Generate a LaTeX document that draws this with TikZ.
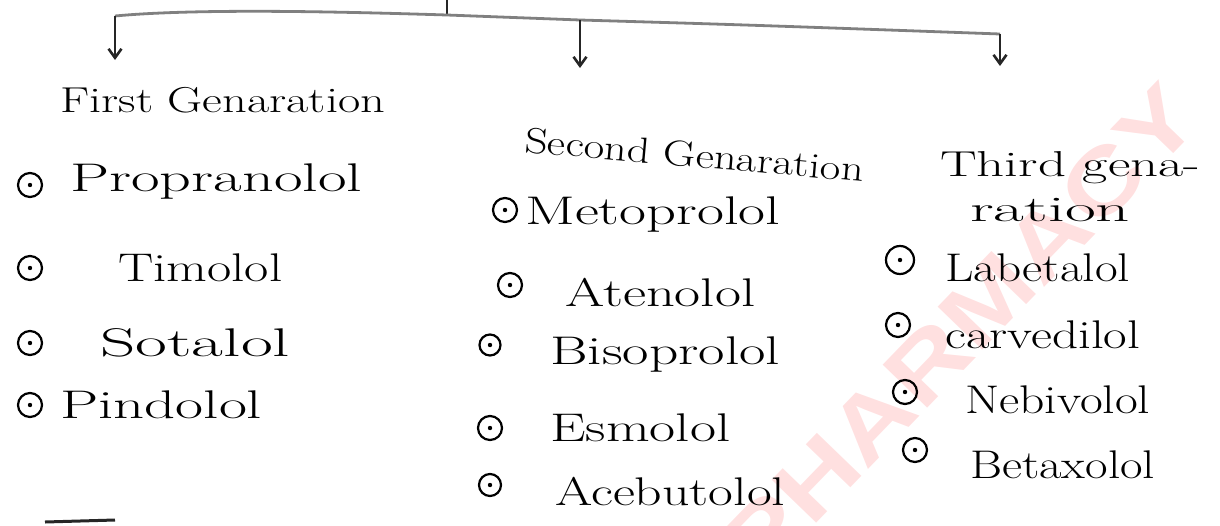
\documentclass[tikz,border=0pt]{standalone}
\usepackage{fontspec}
\usepackage{graphicx}
\usetikzlibrary{arrows.meta}
\newfontfamily\wmfont{Liberation Sans}
\newcommand{\hw}[2]{\resizebox{#1}{\height}{#2}}
\begin{document}
\begin{tikzpicture}[x=1pt,y=-1pt,
  txt/.style={inner sep=0pt, anchor=west, font=\fontsize{40}{44}\selectfont},
  head/.style={inner sep=0pt, anchor=west, font=\fontsize{36}{40}\selectfont},
  bul/.style={circle, draw, line width=2.2pt, minimum size=24pt, inner sep=0pt,
    path picture={\fill (path picture bounding box.center) circle (2.2pt);}},
  conn/.style={line width=2.6pt, draw=black!85},
  hline/.style={line width=2.8pt, draw=black!50},
  arr/.style={conn, -{Straight Barb[length=9pt,width=13pt]}}]
\useasboundingbox (0,0) rectangle (1220,525);
% watermark
\node[rotate=46, text=red!12, inner sep=0pt] (wm) at (960,330)
  {\wmfont\bfseries\fontsize{90}{90}\selectfont\hw{640pt}{PHARMACY}};
% connectors
\coordinate (top) at (447,0);
\coordinate (j0) at (447,15);
\coordinate (jl) at (115,16);
\coordinate (jm) at (580,20);
\coordinate (jr) at (1000,34);
\coordinate (el) at (115,60);
\coordinate (em) at (580,68);
\coordinate (er) at (1000,66);
\coordinate (bl1) at (45,522);
\coordinate (bl2) at (115,520);
\draw[conn] (top) -- (j0);
\draw[hline] (jl) .. controls (200,8) and (350,12) .. (j0) -- (jm) .. controls (750,25) .. (jr);
\draw[arr] (jl) -- (el);
\draw[arr] (jm) -- (em);
\draw[arr] (jr) -- (er);
\draw[conn, line width=3pt] (bl1) -- (bl2);
% headers
\node[head] (h1) at (60,100) {\hw{325pt}{First Genaration}};
\node[head, rotate=-5] (h2) at (525,140) {\hw{340pt}{Second Genaration}};
\node[head] (h3a) at (940,168) {\hw{260pt}{Third gena-}};
\node[head] (h3b) at (970,210) {\hw{160pt}{ration}};
% column 1
\node[bul] (b11) at (30,185) {};
\node[txt] (t11) at (70,182) {\hw{292pt}{Propranolol}};
\node[bul] (b12) at (30,268) {};
\node[txt] (t12) at (118,268) {\hw{164pt}{Timolol}};
\node[bul] (b13) at (30,343) {};
\node[txt] (t13) at (100,343) {\hw{190pt}{Sotalol}};
\node[bul] (b14) at (30,405) {};
\node[txt] (t14) at (60,405) {\hw{202pt}{Pindolol}};
% column 2
\node[bul] (b21) at (505,210) {};
\node[txt] (t21) at (525,215) {\hw{255pt}{Metoprolol}};
\node[bul] (b22) at (510,285) {};
\node[txt] (t22) at (565,293) {\hw{190pt}{Atenolol}};
\node[bul, minimum size=21pt] (b23) at (490,345) {};
\node[txt] (t23) at (550,355) {\hw{230pt}{Bisoprolol}};
\node[bul] (b24) at (490,428) {};
\node[txt] (t24) at (550,428) {\hw{180pt}{Esmolol}};
\node[bul, minimum size=22pt] (b25) at (490,485) {};
\node[txt] (t25) at (555,492) {\hw{230pt}{Acebutolol}};
% column 3
\node[bul, minimum size=28pt] (b31) at (900,260) {};
\node[txt] (t31) at (945,268) {\hw{185pt}{Labetalol}};
\node[bul] (b32) at (898,325) {};
\node[txt] (t32) at (945,335) {\hw{195pt}{carvedilol}};
\node[bul] (b33) at (905,392) {};
\node[txt] (t33) at (965,400) {\hw{185pt}{Nebivolol}};
\node[bul] (b34) at (915,450) {};
\node[txt] (t34) at (970,465) {\hw{185pt}{Betaxolol}};
\end{tikzpicture}
\end{document}
